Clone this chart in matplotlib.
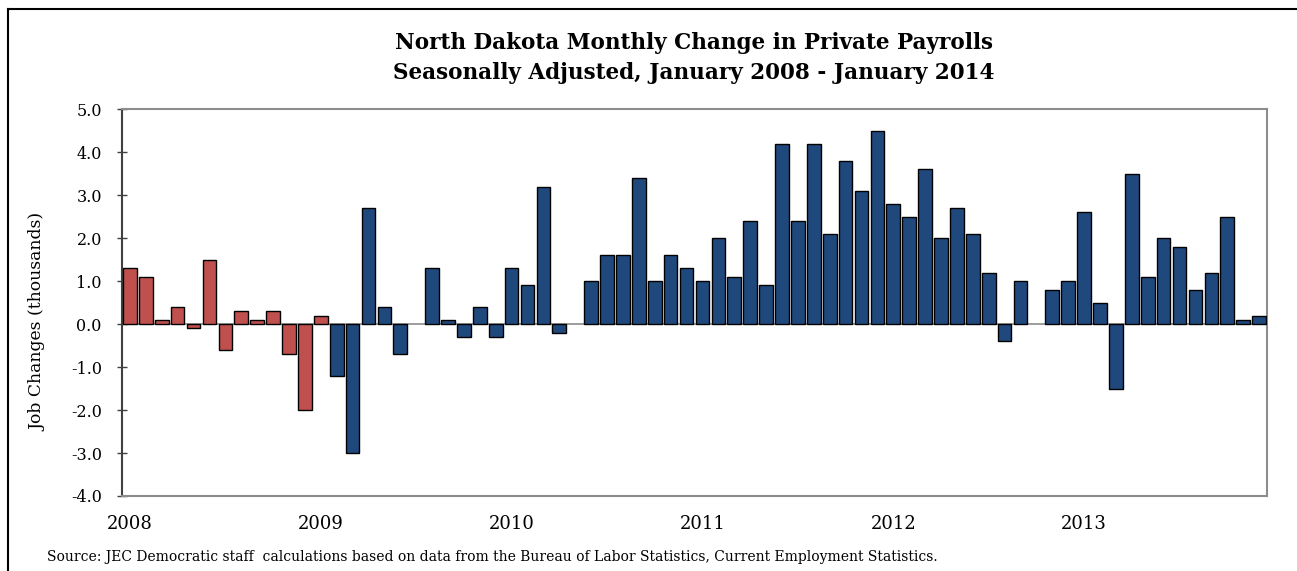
import numpy as np
import matplotlib.pyplot as plt

# monthly change in private payrolls, thousands, Jan 2008 - Dec 2013
bush = [1.3, 1.1, 0.1, 0.4, -0.1, 1.5, -0.6, 0.3, 0.1, 0.3, -0.7, -2.0, 0.2]
obama = [-1.2, -3.0, 2.7, 0.4, -0.7, 0.0, 1.3, 0.1, -0.3, 0.4, -0.3, 1.3,
         0.9, 3.2, -0.2, 0.0, 1.0, 1.6, 1.6, 3.4, 1.0, 1.6, 1.3, 1.0,
         2.0, 1.1, 2.4, 0.9, 4.2, 2.4, 4.2, 2.1, 3.8, 3.1, 4.5, 2.8,
         2.5, 3.6, 2.0, 2.7, 2.1, 1.2, -0.4, 1.0, 0.0, 0.8, 1.0, 2.6,
         0.5, -1.5, 3.5, 1.1, 2.0, 1.8, 0.8, 1.2, 2.5, 0.1, 0.2]
years = ["2008", "2009", "2010", "2011", "2012", "2013"]
yticks = np.arange(-4, 5.1, 1.0)

serif = "DejaVu Serif"
red = "#C0504D"
blue = "#1F497D"

fig = plt.figure(figsize=(12.97, 5.71), dpi=100)
ax = fig.add_axes([122 / 1297, 1 - 496 / 571, 1145 / 1297, 386.7 / 571])

x_b = np.arange(len(bush))
x_o = np.arange(len(bush), len(bush) + len(obama))
# no outline on empty months so the grey axis line shows through
lw_b = [1.0 if v != 0 else 0 for v in bush]
lw_o = [1.0 if v != 0 else 0 for v in obama]
ax.bar(x_b, bush, width=0.86, color=red, edgecolor="black", linewidth=lw_b, zorder=3)
ax.bar(x_o, obama, width=0.86, color=blue, edgecolor="black", linewidth=lw_o, zorder=3)
ax.axhline(0, color="#8c8c8c", linewidth=1.2, zorder=2)

ax.set_xlim(-0.5, len(bush) + len(obama) - 0.5)
ax.set_ylim(-4, 5)
ax.set_yticks(yticks)
ax.set_yticklabels([f"{v:.1f}" for v in yticks], fontfamily=serif, fontsize=11.5)
ax.tick_params(axis="y", direction="inout", length=7, width=1, color="#404040", pad=11)
ax.set_xticks(np.arange(len(years)) * 12)
ax.set_xticklabels(years, fontfamily=serif, fontsize=13)
ax.tick_params(axis="x", length=0, pad=14)

ax.spines["left"].set_color("#404040")
ax.spines["left"].set_linewidth(1.5)
for s in ["top", "right", "bottom"]:
    ax.spines[s].set_color("#8c8c8c")
    ax.spines[s].set_linewidth(1.5)

fig.text(38 / 1297, 1 - 322 / 571, "Job Changes (thousands)", rotation=90,
         ha="center", va="center", fontfamily=serif, fontsize=12.3)
fig.text(694 / 1297, 1 - 43 / 571, "North Dakota Monthly Change in Private Payrolls",
         ha="center", va="center", fontfamily=serif, fontsize=15.5, fontweight="bold")
fig.text(694 / 1297, 1 - 73 / 571, "Seasonally Adjusted, January 2008 - January 2014",
         ha="center", va="center", fontfamily=serif, fontsize=15.5, fontweight="bold")
fig.text(47 / 1297, 1 - 557 / 571,
         "Source: JEC Democratic staff  calculations based on data from the Bureau of Labor Statistics, Current Employment Statistics.",
         ha="left", va="center", fontfamily=serif, fontsize=10)

# page frame (left and top edges)
fig.add_artist(plt.Line2D([8 / 1297, 8 / 1297], [0, 1 - 9 / 571], color="black", linewidth=1.5))
fig.add_artist(plt.Line2D([8 / 1297, 1], [1 - 9 / 571, 1 - 9 / 571], color="black", linewidth=1.5))

fig.savefig("out.png", dpi=100)
